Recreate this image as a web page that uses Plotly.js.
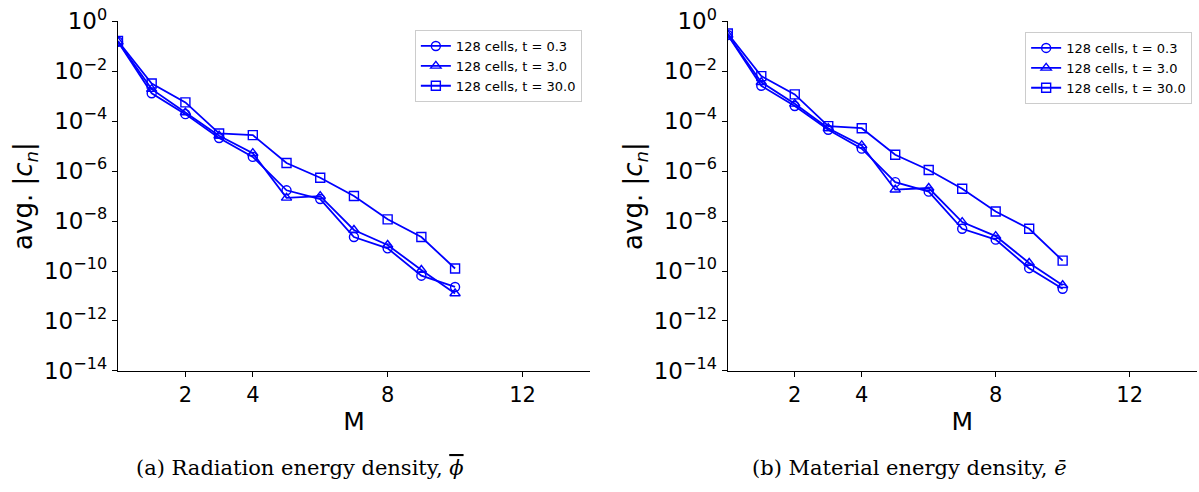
<!DOCTYPE html>
<html>
<head>
<meta charset="utf-8">
<script src="https://cdn.plot.ly/plotly-3.0.1.min.js"></script>
<style>html,body{margin:0;padding:0;background:#fff;}#plot{width:1199px;height:492px;}</style>
</head>
<body>
<div id="plot"></div>
<script>
// Mode numbers
const M = [0, 1, 2, 3, 4, 5, 6, 7, 8, 9, 10];

// (a) Radiation energy density
const radT03 = [1.5e-1, 1.3e-3, 1.9e-4, 2.1e-5, 3.7e-6, 1.7e-7, 7.6e-8, 2.3e-9, 8.1e-10, 6.5e-11, 2.3e-11];
const radT3 = [1.5e-1, 1.9e-3, 2.2e-4, 2.6e-5, 5.2e-6, 8.5e-8, 1.0e-7, 4.4e-9, 1.1e-9, 1.1e-10, 1.26e-11];
const radT30 = [1.6e-1, 3.2e-3, 5.6e-4, 3.2e-5, 2.75e-5, 2.1e-6, 5.4e-7, 1.0e-7, 1.17e-8, 2.3e-9, 1.26e-10];

// (b) Material energy density
const matT03 = [2.8e-1, 2.6e-3, 4.0e-4, 4.5e-5, 7.9e-6, 3.6e-7, 1.5e-7, 4.9e-9, 1.8e-9, 1.3e-10, 1.95e-11];
const matT3 = [2.8e-1, 3.6e-3, 4.9e-4, 5.2e-5, 1.07e-5, 1.8e-7, 2.1e-7, 9.1e-9, 2.5e-9, 2.1e-10, 2.7e-11];
const matT30 = [3.2e-1, 6.3e-3, 1.17e-3, 6.3e-5, 5.2e-5, 4.5e-6, 1.1e-6, 1.95e-7, 2.4e-8, 4.9e-9, 2.6e-10];

const seriesNames = ["128 cells, t = 0.3", "128 cells, t = 3.0", "128 cells, t = 30.0"];
const symbols = ["circle-open", "triangle-up-open", "square-open"];

const xTickVals = [2, 4, 8, 12];
const yTickVals = [1, 1e-2, 1e-4, 1e-6, 1e-8, 1e-10, 1e-12, 1e-14];
const yTickText = ["10<sup>0</sup>", "10<sup>−2</sup>", "10<sup>−4</sup>", "10<sup>−6</sup>",
                   "10<sup>−8</sup>", "10<sup>−10</sup>", "10<sup>−12</sup>", "10<sup>−14</sup>"];

const captions = ["(a) Radiation energy density, <span style=\"text-decoration:overline\"><i>ϕ</i></span>",
                  "(b) Material energy density, <i>ē</i>"];

const BLUE = "#0000ff";
const FONT = "DejaVu Sans, sans-serif";
const SERIF = "DejaVu Serif, serif";

function mk(y, i, xa, ya, leg) {
  return {
    x: M, y: y, type: "scatter", mode: "lines+markers",
    name: seriesNames[i], xaxis: xa, yaxis: ya, legend: leg,
    line: {color: BLUE, width: 1.8},
    marker: {symbol: symbols[i], size: 9, color: BLUE, line: {color: BLUE, width: 1.4}}
  };
}

const data = [
  mk(radT03, 0, "x", "y", "legend"),
  mk(radT3, 1, "x", "y", "legend"),
  mk(radT30, 2, "x", "y", "legend"),
  mk(matT03, 0, "x2", "y2", "legend2"),
  mk(matT3, 1, "x2", "y2", "legend2"),
  mk(matT30, 2, "x2", "y2", "legend2")
];

function xax(domain, anchor) {
  return {
    domain: domain, anchor: anchor, range: [0, 14], tickvals: xTickVals,
    showgrid: false, zeroline: false, showline: true, linecolor: "#000", linewidth: 1.2,
    ticks: "outside", ticklen: 5, tickwidth: 1, tickcolor: "#000",
    tickfont: {family: FONT, size: 21, color: "#000"},
    title: {text: "M", font: {family: FONT, size: 25, color: "#000"}, standoff: 6},
    mirror: false
  };
}
function yax(anchor) {
  return {
    domain: [0.246, 0.957], anchor: anchor, type: "log", range: [-14, 0],
    tickvals: yTickVals, ticktext: yTickText,
    showgrid: false, zeroline: false, showline: true, linecolor: "#000", linewidth: 1.2,
    ticks: "outside", ticklen: 5, tickwidth: 1, tickcolor: "#000",
    tickfont: {family: FONT, size: 23, color: "#000"},
    title: {text: "avg. |<i>c</i><sub><i>n</i></sub>|", font: {family: FONT, size: 26, color: "#000"}, standoff: 3}
  };
}

const legendStyle = (x, y) => ({
  x: x, y: y, xanchor: "left", yanchor: "top", xref: "paper", yref: "paper",
  bgcolor: "rgba(255,255,255,0.8)", bordercolor: "#cccccc", borderwidth: 1,
  font: {family: FONT, size: 13, color: "#000"}, itemwidth: 30, tracegroupgap: 0
});

const layout = {
  width: 1199, height: 492,
  margin: {l: 0, r: 0, t: 0, b: 0},
  paper_bgcolor: "#fff", plot_bgcolor: "#fff",
  showlegend: true,
  xaxis: xax([0.0984, 0.492], "y"),
  yaxis: yax("x"),
  xaxis2: xax([0.607, 0.998], "y2"),
  yaxis2: yax("x2"),
  legend: legendStyle(0.346, 0.939),
  legend2: legendStyle(0.855, 0.935),
  annotations: [
    {text: captions[0], x: 0.2505, y: 0.049, xref: "paper", yref: "paper", showarrow: false,
     xanchor: "center", yanchor: "middle", font: {family: SERIF, size: 21, color: "#000"}},
    {text: captions[1], x: 0.7585, y: 0.049, xref: "paper", yref: "paper", showarrow: false,
     xanchor: "center", yanchor: "middle", font: {family: SERIF, size: 21, color: "#000"}}
  ]
};

Plotly.newPlot("plot", data, layout, {displayModeBar: false, staticPlot: true});
</script>
</body>
</html>
